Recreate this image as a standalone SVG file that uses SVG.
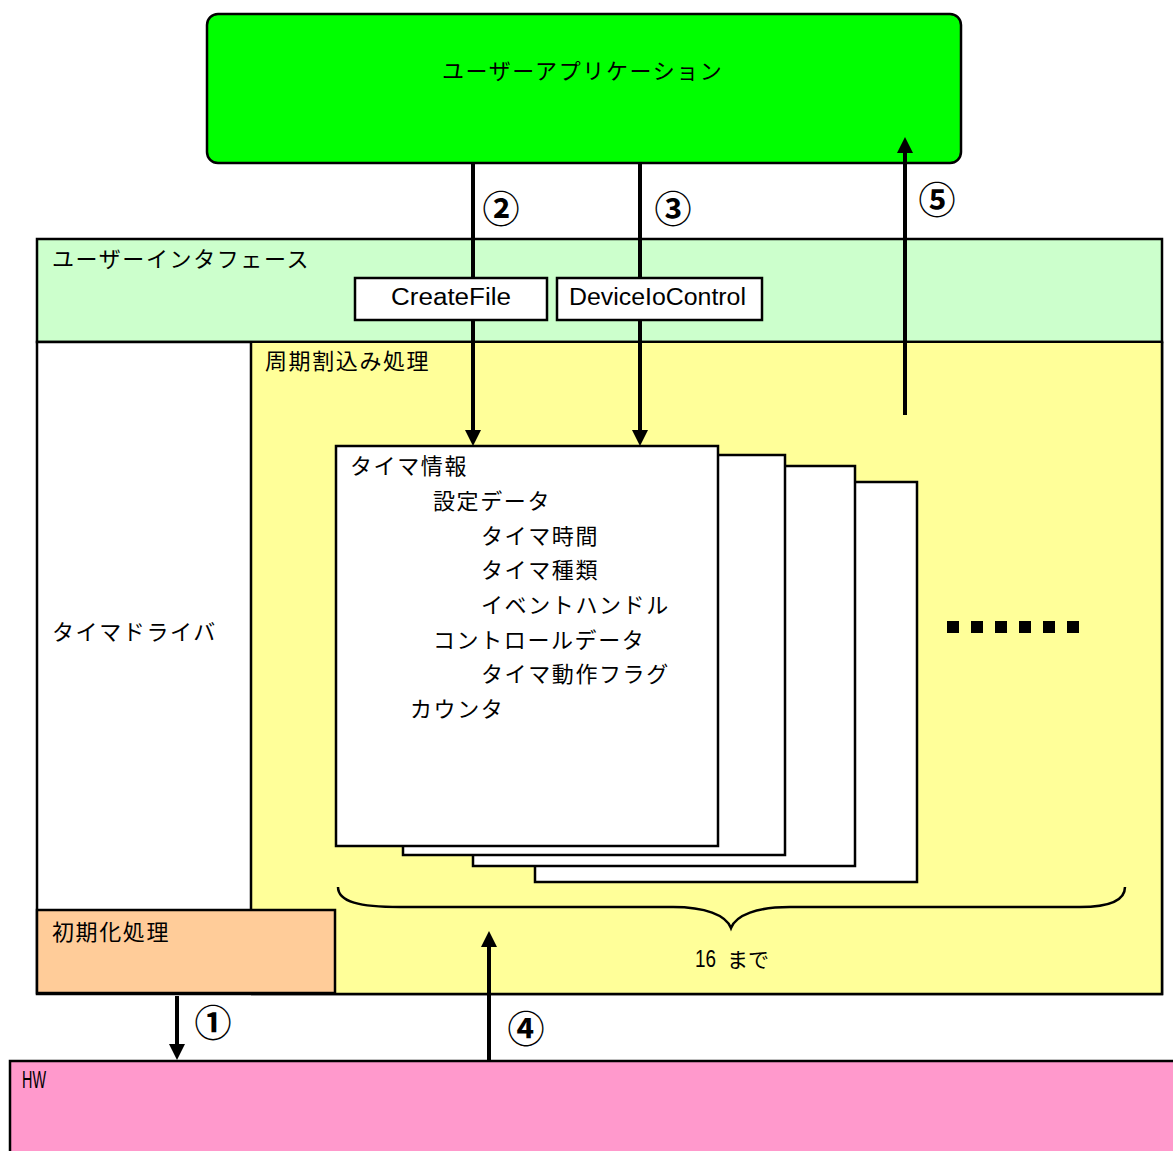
<svg xmlns="http://www.w3.org/2000/svg" width="1173" height="1151" viewBox="0 0 1173 1151">
<defs>
<style>
.jp{font-family:"Noto Sans CJK JP","Noto Sans CJK SC",sans-serif;font-size:22px;letter-spacing:1.6px;fill:#000;dominant-baseline:central}
.lat{font-family:"Liberation Sans","Noto Sans CJK JP",sans-serif;font-size:23px;fill:#000;dominant-baseline:central}
.num{font-family:"Noto Sans CJK JP",sans-serif;font-size:37px;font-weight:bold;fill:#000;text-anchor:middle;dominant-baseline:central}
.box{stroke:#000;stroke-width:2.5}
.page{fill:#fff;stroke:#000;stroke-width:2.5}
.conn{stroke:#000;stroke-width:4;fill:none}
.dot{fill:#000}
</style>
<marker id="ah" markerUnits="userSpaceOnUse" markerWidth="16" markerHeight="16" refX="6" refY="8" orient="auto">
<path d="M0,0 L16,8 L0,16 z" fill="#000"/>
</marker>
</defs>
<rect width="1173" height="1151" fill="#fff"/>

<g id="user-app">
<rect class="box" x="207" y="14" width="754" height="149" rx="11" fill="#00FF00"/>
<text class="jp" x="442" y="69">ユーザーアプリケーション</text>
</g>

<g id="user-interface">
<rect class="box" x="37" y="239" width="1125" height="103" fill="#CCFFCC"/>
<text class="jp" x="52" y="257">ユーザーインタフェース</text>
</g>

<g id="timer-driver">
<rect class="box" x="37" y="342" width="1125" height="652" fill="#fff"/>
<rect x="251" y="343" width="910" height="650" fill="#FFFF99"/>
<line x1="251" y1="342" x2="251" y2="910" stroke="#000" stroke-width="2.5"/>
<path d="M251,994 H1162 V342" fill="none" stroke="#000" stroke-width="2.5"/>
<text class="jp" x="52" y="630">タイマドライバ</text>
</g>

<g id="periodic-interrupt">
<text class="jp" x="265" y="359">周期割込み処理</text>
</g>

<g id="init">
<rect class="box" x="37" y="910" width="298" height="83" fill="#FFCC99"/>
<text class="jp" x="52" y="930">初期化処理</text>
</g>

<g id="timer-info">
<rect class="page" x="535" y="482" width="382" height="400"/>
<rect class="page" x="473" y="466" width="382" height="400"/>
<rect class="page" x="403" y="455" width="382" height="400"/>
<rect class="page" x="336" y="446" width="382" height="400"/>
<text class="jp" x="350" y="464">タイマ情報</text>
<text class="jp" x="433" y="499">設定データ</text>
<text class="jp" x="481" y="534">タイマ時間</text>
<text class="jp" x="481" y="568">タイマ種類</text>
<text class="jp" x="481" y="603">イベントハンドル</text>
<text class="jp" x="433" y="638">コントロールデータ</text>
<text class="jp" x="481" y="672">タイマ動作フラグ</text>
<text class="jp" x="410" y="707">カウンタ</text>
</g>

<g id="more">
<rect class="dot" x="947" y="621" width="12" height="12"/>
<rect class="dot" x="971" y="621" width="12" height="12"/>
<rect class="dot" x="995" y="621" width="12" height="12"/>
<rect class="dot" x="1019" y="621" width="12" height="12"/>
<rect class="dot" x="1043" y="621" width="12" height="12"/>
<rect class="dot" x="1067" y="621" width="12" height="12"/>
</g>

<g id="brace">
<path d="M338,887 C338,902 360,907 400,907 L673,907 C705,907 726,915 731,928 C736,915 757,907 790,907 L1080,907 C1110,907 1125,900 1125,887" fill="none" stroke="#000" stroke-width="2.5"/>
<text class="lat" x="695" y="959" textLength="21" lengthAdjust="spacingAndGlyphs">16</text>
<text class="jp" x="727" y="958" style="font-size:21px;letter-spacing:0">まで</text>
</g>

<g id="hw">
<rect class="box" x="10" y="1061" width="1180" height="110" fill="#FF99CC"/>
<text class="lat" x="22" y="1080" textLength="24" lengthAdjust="spacingAndGlyphs">HW</text>
</g>

<g id="connectors">
<line class="conn" x1="473" y1="163" x2="473" y2="436" marker-end="url(#ah)"/>
<line class="conn" x1="640" y1="163" x2="640" y2="436" marker-end="url(#ah)"/>
<line class="conn" x1="905" y1="415" x2="905" y2="147" marker-end="url(#ah)"/>
<line class="conn" x1="177" y1="996" x2="177" y2="1050" marker-end="url(#ah)"/>
<line class="conn" x1="489" y1="1061" x2="489" y2="941" marker-end="url(#ah)"/>
<text class="num" x="501" y="207">②</text>
<text class="num" x="673" y="207">③</text>
<text class="num" x="937" y="198">⑤</text>
<text class="num" x="213" y="1021">①</text>
<text class="num" x="526" y="1027">④</text>
</g>

<g id="createfile">
<rect class="box" x="355" y="278" width="192" height="42" fill="#fff"/>
<text class="lat" x="391" y="297" textLength="120" lengthAdjust="spacingAndGlyphs">CreateFile</text>
</g>

<g id="deviceiocontrol">
<rect class="box" x="557" y="278" width="205" height="42" fill="#fff"/>
<text class="lat" x="569" y="297" textLength="177" lengthAdjust="spacingAndGlyphs">DeviceIoControl</text>
</g>
</svg>
